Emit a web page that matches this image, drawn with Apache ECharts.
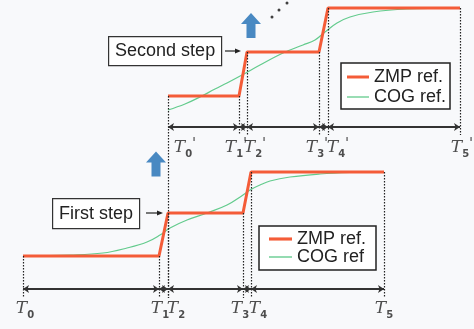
<!DOCTYPE html>
<html>
<head>
<meta charset="utf-8">
<script src="https://cdn.jsdelivr.net/npm/echarts@6/dist/echarts.min.js"></script>
<style>
  html, body { margin: 0; padding: 0; background: #f8f9fb; }
  #chart { width: 474px; height: 329px; }
</style>
</head>
<body>
<div id="chart"></div>
<script>
// picture units: x grows right, y grows down (yAxis inverse)
// switching times of the two steps
const lowerT = [23, 159, 168, 243, 251, 384]
const upperT = [168, 239, 247, 319, 328, 460]
// ZMP levels of each step (start, middle, end)
const lowerLevels = [256, 213, 172]
const upperLevels = [96, 52, 8]
// COG reference
const lowerCogX = [23, 70, 103, 127, 147, 160, 170, 187, 207, 227, 243, 250, 260, 270, 290, 320, 350, 384]
const lowerCogY = [256, 255, 253, 248, 242, 235, 228, 220, 213, 205, 195, 190, 185, 181, 177, 174, 172.5, 172]
const upperCogX = [168, 185, 200, 215, 227, 242, 260, 283, 303, 315, 325, 337, 350, 373, 407, 440, 460]
const upperCogY = [110, 104, 97, 89, 83, 75, 65, 53, 45, 40, 32, 23, 17, 12, 9, 8.3, 8]
// time-interval arrows and the tick labels under them
const lowerArrowY = 289
const upperArrowY = 127
const lowerDottedBottom = 298
const upperDottedBottom = 135
const lowerTickX = [25, 160, 176, 240, 258, 384]
const upperTickX = [185, 236, 255, 317, 338, 462]
const lowerTickY = 309
const upperTickY = 148
const tickSubs = ['0', '1', '2', '3', '4', '5']
// blue "step" arrows and the ellipsis dots
const stepArrowX = [156, 251]
const stepArrowY = [164, 25.5]
const dotsX = [272, 279, 287]
const dotsY = [17, 10, 3]

const RED = '#f45c38'
const GREEN = '#62cb8c'
const INK = '#222'

function zmpPath(t, lv) {
  return [[t[0], lv[0]], [t[1], lv[0]], [t[2], lv[1]], [t[3], lv[1]], [t[4], lv[2]], [t[5], lv[2]]]
}

function dottedLines(t, lv, bottom, firstBottom) {
  const tops = [lv[0], lv[0], lv[1], lv[1], lv[2], lv[2]]
  return t.map((x, i) => [
    { coord: [x, tops[i]] },
    { coord: [x, i === 0 && firstBottom ? firstBottom : bottom] }
  ])
}

function arrowSegments(t, y) {
  const segs = []
  for (let i = 0; i < t.length - 1; i++) {
    segs.push([{ coord: [t[i], y] }, { coord: [t[i + 1], y] }])
  }
  return segs
}

function tickData(xs, y, prime) {
  return xs.map((x, i) => ({ value: [x, y], sub: tickSubs[i], prime: prime }))
}

// flat bar icons for the legend, thick for ZMP, thin for COG
const ZMP_ICON = 'path://M0,0 L22,0 L22,3 L0,3 Z'
const COG_ICON = 'path://M0,0 L22,0 L22,1.3 L0,1.3 Z'

const chart = echarts.init(document.getElementById('chart'))

const tickLabel = {
  show: true,
  position: 'inside',
  formatter: p => '{t|T}{s|' + p.data.sub + '}' + (p.data.prime ? '{p|\'}' : ''),
  rich: {
    t: { fontFamily: 'DejaVu Serif', fontStyle: 'italic', fontSize: 17, color: INK, lineHeight: 22 },
    s: { fontFamily: 'DejaVu Sans', fontWeight: 'bold', fontSize: 10, color: INK, lineHeight: 12, verticalAlign: 'bottom' },
    p: { fontFamily: 'DejaVu Serif', fontStyle: 'italic', fontSize: 15, color: INK, lineHeight: 14, verticalAlign: 'top' }
  }
}

const option = {
  backgroundColor: '#f8f9fb',
  animation: false,
  grid: { left: 0, right: 0, top: 0, bottom: 0 },
  xAxis: { type: 'value', min: 0, max: 474, show: false },
  yAxis: { type: 'value', min: 0, max: 329, inverse: true, show: false },
  legend: [
    {
      orient: 'vertical',
      left: 341, top: 63,
      padding: [4, 4, 2, 6],
      itemWidth: 22, itemHeight: 14, itemGap: 0,
      symbolKeepAspect: true,
      borderColor: INK, borderWidth: 1.5,
      backgroundColor: '#fff',
      textStyle: { fontFamily: 'Liberation Sans', fontSize: 18, lineHeight: 20, color: INK },
      data: [{ name: 'ZMP ref.', icon: ZMP_ICON }, { name: 'COG ref.', icon: COG_ICON }]
    },
    {
      orient: 'vertical',
      left: 259, top: 226,
      padding: [4, 10, 4, 10],
      itemWidth: 23, itemHeight: 12, itemGap: 0,
      symbolKeepAspect: true,
      borderColor: INK, borderWidth: 1.5,
      backgroundColor: '#fff',
      textStyle: { fontFamily: 'Liberation Sans', fontSize: 18, lineHeight: 17, color: INK },
      data: [{ name: 'ZMP ref.', icon: ZMP_ICON }, { name: 'COG ref', icon: COG_ICON }]
    }
  ],
  series: [
    {
      name: 'guides',
      type: 'line',
      data: [],
      silent: true,
      markLine: {
        silent: true,
        symbol: 'none',
        label: { show: false },
        lineStyle: { color: INK, width: 1.2, type: [1.5, 1.5] },
        data: dottedLines(lowerT, lowerLevels, lowerDottedBottom)
          .concat(dottedLines(upperT, upperLevels, upperDottedBottom, lowerDottedBottom))
      }
    },
    {
      name: 'intervals',
      type: 'line',
      data: [],
      silent: true,
      markLine: {
        silent: true,
        symbol: ['arrow', 'arrow'],
        symbolSize: 6,
        label: { show: false },
        lineStyle: { color: '#333', width: 2, type: 'solid' },
        data: arrowSegments(lowerT, lowerArrowY).concat(arrowSegments(upperT, upperArrowY))
      }
    },
    {
      name: 'COG ref',
      type: 'line',
      smooth: 0.4,
      symbol: 'none',
      lineStyle: { color: GREEN, width: 1.2 },
      itemStyle: { color: GREEN },
      data: lowerCogX.map((x, i) => [x, lowerCogY[i]])
    },
    {
      name: 'COG ref.',
      type: 'line',
      smooth: 0.4,
      symbol: 'none',
      lineStyle: { color: GREEN, width: 1.2 },
      itemStyle: { color: GREEN },
      data: upperCogX.map((x, i) => [x, upperCogY[i]])
    },
    {
      name: 'ZMP ref.',
      type: 'line',
      symbol: 'none',
      lineStyle: { color: RED, width: 3 },
      itemStyle: { color: RED },
      data: zmpPath(lowerT, lowerLevels)
    },
    {
      name: 'ZMP ref.',
      type: 'line',
      symbol: 'none',
      lineStyle: { color: RED, width: 3 },
      itemStyle: { color: RED },
      data: zmpPath(upperT, upperLevels)
    },
    {
      name: 'ticks',
      type: 'scatter',
      symbolSize: 0,
      silent: true,
      label: tickLabel,
      data: tickData(lowerTickX, lowerTickY, false).concat(tickData(upperTickX, upperTickY, true))
    },
    {
      name: 'step arrows',
      type: 'scatter',
      silent: true,
      symbol: 'path://M10,0 L20,11 L14.5,11 L14.5,25 L5.5,25 L5.5,11 L0,11 Z',
      symbolSize: [20, 25],
      itemStyle: { color: '#1d6db4' },
      data: stepArrowX.map((x, i) => [x, stepArrowY[i]])
    },
    {
      name: 'dots',
      type: 'scatter',
      silent: true,
      symbolSize: 3,
      itemStyle: { color: '#111' },
      data: dotsX.map((x, i) => [x, dotsY[i]])
    }
  ],
  graphic: [
    {
      type: 'group', left: 108, top: 36,
      children: [
        { type: 'rect', shape: { x: 0, y: 0, width: 113, height: 29 }, style: { fill: '#fff', stroke: '#333', lineWidth: 1.2 } },
        { type: 'text', x: 56.5, y: 14.5, style: { text: 'Second step', fontFamily: 'Liberation Sans', fontSize: 18, fill: INK, align: 'center', verticalAlign: 'middle' } }
      ]
    },
    { type: 'line', shape: { x1: 225, y1: 51, x2: 236, y2: 51 }, style: { stroke: INK, lineWidth: 1.2 } },
    { type: 'polygon', shape: { points: [[241, 51], [235, 48.5], [235, 53.5]] }, style: { fill: INK } },
    {
      type: 'group', left: 52, top: 198,
      children: [
        { type: 'rect', shape: { x: 0, y: 0, width: 87, height: 30 }, style: { fill: '#fff', stroke: '#333', lineWidth: 1.2 } },
        { type: 'text', x: 43.5, y: 15, style: { text: 'First step', fontFamily: 'Liberation Sans', fontSize: 18, fill: INK, align: 'center', verticalAlign: 'middle' } }
      ]
    },
    { type: 'line', shape: { x1: 146, y1: 213, x2: 158, y2: 213 }, style: { stroke: INK, lineWidth: 1.2 } },
    { type: 'polygon', shape: { points: [[163, 213], [157, 210.5], [157, 215.5]] }, style: { fill: INK } }
  ]
}

chart.setOption(option)
</script>
</body>
</html>
